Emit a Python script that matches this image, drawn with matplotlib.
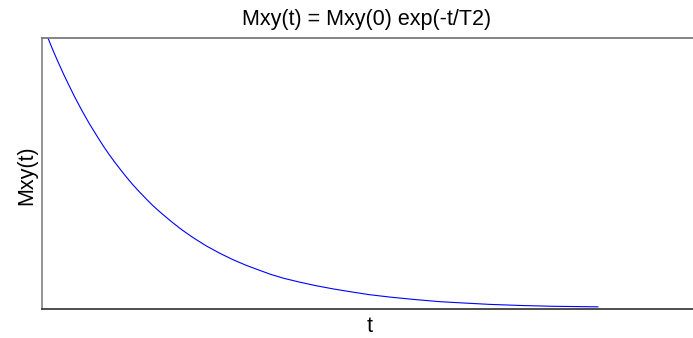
import matplotlib
matplotlib.use("Agg")
import matplotlib.pyplot as plt

# values (t in axis units, Mxy normalised to axis height)
t_vals = [0.055, 0.10, 0.15, 0.20, 0.231, 0.30, 0.37, 0.44, 0.508, 0.565,
          0.62, 0.675, 0.729, 0.785, 0.840, 0.90, 0.96, 1.025, 1.089, 1.19,
          1.292, 1.40, 1.52, 1.64, 1.763, 1.88, 2.0, 2.11, 2.225, 2.38,
          2.53, 2.69, 2.843, 3.02, 3.212, 3.44, 3.674, 3.90, 4.135, 4.42,
          4.717, 4.92, 5.132]
mxy_vals = [1.0, 0.956, 0.910, 0.866, 0.840, 0.784, 0.731, 0.682, 0.638, 0.602,
            0.570, 0.540, 0.512, 0.484, 0.458, 0.432, 0.407, 0.381, 0.358, 0.324,
            0.292, 0.262, 0.232, 0.206, 0.182, 0.162, 0.144, 0.128, 0.114, 0.099,
            0.086, 0.074, 0.064, 0.053, 0.044, 0.035, 0.027, 0.022, 0.017, 0.013,
            0.010, 0.009, 0.008]

plt.rcParams['font.family'] = ['Liberation Sans', 'DejaVu Sans']

fig = plt.figure(figsize=(6.93, 3.38), dpi=100)
W, H = 693, 338
ax = fig.add_axes([42 / W, 1 - 309 / H, 651 / W, (309 - 38) / H])

ax.plot(t_vals, mxy_vals, color='#0000ff', linewidth=0.8)
ax.set_xlim(0, 6.01)
ax.set_ylim(0, 1)
ax.set_xticks([])
ax.set_yticks([])

ax.spines['right'].set_visible(False)
ax.spines['top'].set_color('#707070')
ax.spines['left'].set_color('#808080')
ax.spines['bottom'].set_color('#303030')
for s in ax.spines.values():
    s.set_linewidth(1.2)

fig.text(367 / W, 1 - 19 / H, 'Mxy(t) = Mxy(0) exp(-t/T2)', ha='center', va='center', fontsize=15.5)
fig.text(27 / W, 1 - 175 / H, 'Mxy(t)', ha='center', va='center', rotation=90, fontsize=15.5)
fig.text(370 / W, 1 - 327 / H, 't', ha='center', va='center', fontsize=15.5)

fig.savefig('out.png', dpi=100)
